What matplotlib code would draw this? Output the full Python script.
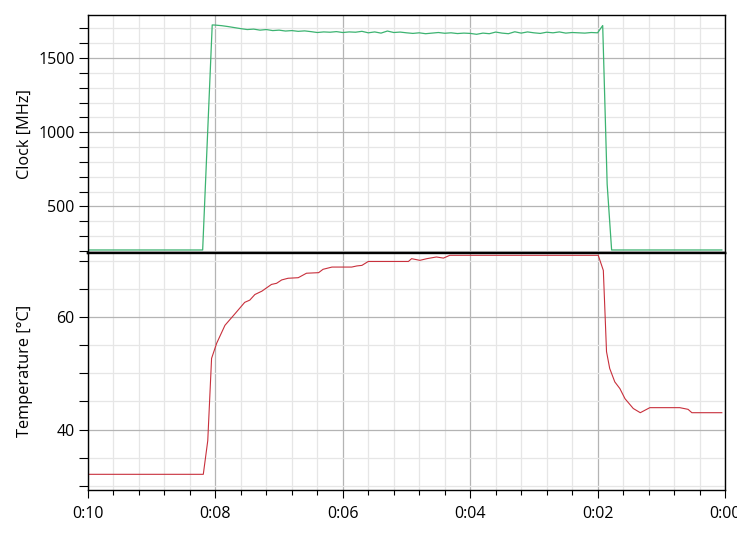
import numpy as np
import matplotlib
matplotlib.use('Agg')
import matplotlib.pyplot as plt
from matplotlib.ticker import MultipleLocator, FuncFormatter

plt.rcParams['font.family'] = ['Open Sans', 'DejaVu Sans']

# minutes before the end of the run
clock_time = [10.0, 8.2, 8.05,
              8.0, 7.9, 7.8, 7.7, 7.6, 7.5, 7.4, 7.3, 7.2, 7.1,
              7.0, 6.9, 6.8, 6.7, 6.6, 6.5, 6.4, 6.3, 6.2, 6.1,
              6.0, 5.9, 5.8, 5.7, 5.6, 5.5, 5.4, 5.3, 5.2, 5.1,
              5.0, 4.9, 4.8, 4.7, 4.6, 4.5, 4.4, 4.3, 4.2, 4.1,
              4.0, 3.9, 3.8, 3.7, 3.6, 3.5, 3.4, 3.3, 3.2, 3.1,
              3.0, 2.9, 2.8, 2.7, 2.6, 2.5, 2.4, 2.3, 2.2, 2.1,
              2.0, 1.92, 1.85, 1.78, 0.05]
clock_mhz = [207, 207, 1723,
             1722, 1718, 1712, 1705, 1698, 1692, 1695, 1688, 1692, 1685,
             1688, 1682, 1685, 1680, 1683, 1678, 1672, 1676, 1674, 1678,
             1672, 1676, 1674, 1680, 1670, 1676, 1668, 1682, 1672, 1675,
             1670, 1666, 1670, 1664, 1668, 1672, 1667, 1670, 1665, 1668,
             1666, 1660, 1668, 1664, 1675, 1668, 1664, 1677, 1668, 1676,
             1670, 1666, 1674, 1670, 1676, 1668, 1672, 1670, 1668, 1672,
             1670, 1719, 650, 207, 207]

temp_time = [10.0, 8.19, 8.12, 8.06, 7.98, 7.85, 7.69, 7.54, 7.46, 7.38,
             7.27, 7.12, 7.04, 6.96, 6.86, 6.70, 6.57, 6.38, 6.31, 6.17,
             5.86, 5.78, 5.70, 5.60, 4.97, 4.92, 4.79, 4.68, 4.53, 4.42,
             4.32, 1.99, 1.91, 1.86, 1.81, 1.73, 1.65, 1.57, 1.44, 1.33,
             1.18, 0.71, 0.58, 0.52, 0.05]
temp_c = [32.0, 32.0, 38.0, 52.7, 55.4, 58.6, 60.7, 62.7, 63.1, 64.1,
          64.7, 65.9, 66.1, 66.7, 67.0, 67.1, 67.9, 68.0, 68.6, 69.0,
          69.0, 69.2, 69.3, 70.0, 70.0, 70.5, 70.2, 70.5, 70.8, 70.6,
          71.1, 71.1, 68.4, 53.9, 50.9, 48.5, 47.3, 45.5, 43.75, 43.0,
          43.9, 43.9, 43.6, 43.0, 43.0]

fig = plt.figure(figsize=(7.37, 5.35), dpi=100)
ax1 = fig.add_axes([88 / 737, 1 - 252.5 / 535, 637 / 737, 237.5 / 535])
ax2 = fig.add_axes([88 / 737, 1 - 490 / 535, 637 / 737, 237.5 / 535], sharex=ax1)

ax1.plot(clock_time, clock_mhz, color='#3cb371', lw=0.9)
ax2.plot(temp_time, temp_c, color='#c8303c', lw=0.8)

ax1.set_xlim(10, 0)
ax1.set_ylim(190, 1790)
ax2.set_ylim(29.2, 71.6)

ax1.yaxis.set_major_locator(MultipleLocator(500))
ax1.yaxis.set_minor_locator(MultipleLocator(100))
ax2.yaxis.set_major_locator(MultipleLocator(20))
ax2.yaxis.set_minor_locator(MultipleLocator(5))
ax2.xaxis.set_major_locator(MultipleLocator(2))
ax2.xaxis.set_minor_locator(MultipleLocator(0.4))
ax2.xaxis.set_major_formatter(FuncFormatter(lambda v, p: f"0:{int(round(v)):02d}"))

for ax in (ax1, ax2):
    ax.grid(which='major', color='#b4b4b4', lw=0.9)
    ax.grid(which='minor', color='#e6e6e6', lw=0.9)
    ax.set_axisbelow(True)
    for s in ax.spines.values():
        s.set_color('black')
        s.set_linewidth(1.0)
    ax.tick_params(axis='y', which='both', length=6.5, width=0.8, labelsize=11.5, pad=3)
    ax.tick_params(axis='x', which='major', length=5.5, width=0.8, labelsize=11.5, pad=6)
    ax.tick_params(axis='x', which='minor', length=3.5, width=0.8)

ax1.tick_params(axis='x', which='both', bottom=False, labelbottom=False)
ax1.spines['bottom'].set_linewidth(1.7)
ax2.spines['top'].set_linewidth(1.7)

ax1.set_ylabel('Clock [MHz]', fontsize=11.8)
ax2.set_ylabel('Temperature [°C]', fontsize=11.8)
ax1.yaxis.set_label_coords(-0.086, 0.5)
ax2.yaxis.set_label_coords(-0.086, 0.5)

fig.savefig('out.png', dpi=100)
